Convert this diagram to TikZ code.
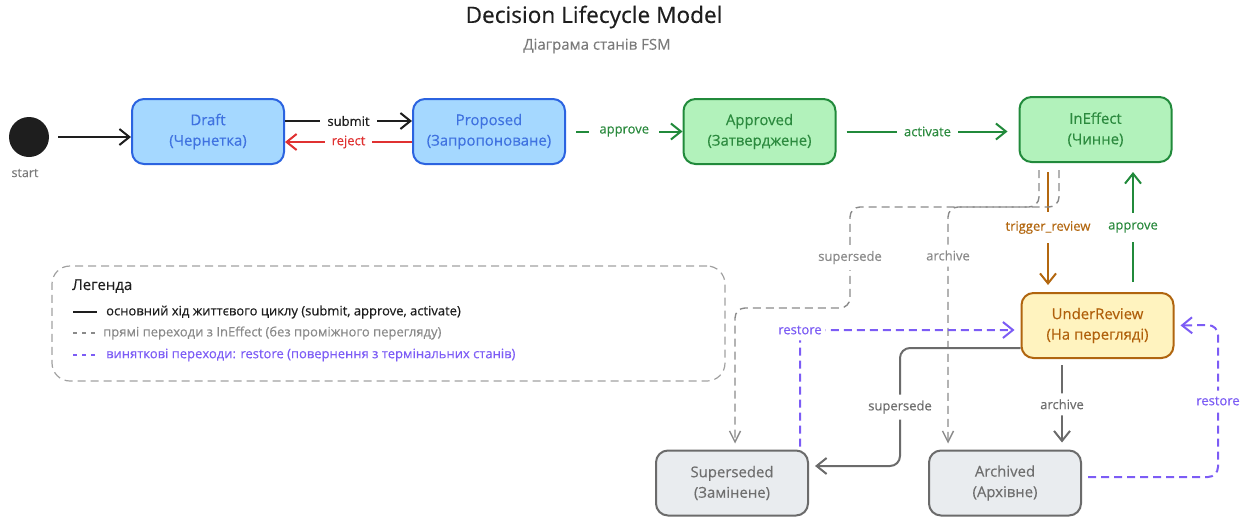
\documentclass[tikz,border=0pt]{standalone}
\usepackage{fontspec}
\setmainfont{Open Sans}[FakeBold=0.35]
\usetikzlibrary{arrows.meta,calc}

\definecolor{inkdark}{HTML}{1E1E1E}
\definecolor{subgray}{HTML}{7A7A7A}
\definecolor{bluefill}{HTML}{A5D8FF}
\definecolor{bluedraw}{HTML}{2B63E0}
\definecolor{bluetext}{HTML}{3F72E0}
\definecolor{greenfill}{HTML}{B2F2BB}
\definecolor{greendraw}{HTML}{218A3B}
\definecolor{greentext}{HTML}{2B8A3E}
\definecolor{yellowfill}{HTML}{FFF3BF}
\definecolor{yellowdraw}{HTML}{B0650F}
\definecolor{yellowtext}{HTML}{B0600B}
\definecolor{grayfill}{HTML}{E9ECEF}
\definecolor{graydraw}{HTML}{6B6B6B}
\definecolor{graytext}{HTML}{6E6E6E}
\definecolor{rejectred}{HTML}{E03131}
\definecolor{restorepurple}{HTML}{7C5CF5}
\definecolor{reviewbrown}{HTML}{B3670F}
\definecolor{ghostgray}{HTML}{8A8A8A}

\tikzset{
  state/.style={rounded corners=12pt, line width=2pt, minimum width=152pt,
    minimum height=65pt, align=center, inner sep=0pt,
    font=\fontsize{14.9}{20.5}\selectfont},
  bluestate/.style={state, draw=bluedraw, fill=bluefill, text=bluetext},
  greenstate/.style={state, draw=greendraw, fill=greenfill, text=greentext},
  yellowstate/.style={state, draw=yellowdraw, fill=yellowfill, text=yellowtext},
  graystate/.style={state, draw=graydraw, fill=grayfill, text=graytext},
  tip/.style={-{Straight Barb[length=10pt,width=16pt]}},
  thintip/.style={-{Straight Barb[length=11pt,width=11pt]}},
  lbl/.style={fill=white, inner xsep=7pt, inner ysep=6pt,
    font=\fontsize{13}{15}\selectfont},
  mainflow/.style={tip, line width=2pt, draw=inkdark},
  ghost/.style={thintip, line width=1.4pt, draw=ghostgray,
    dash pattern=on 8pt off 5pt, rounded corners=10pt},
  restoreflow/.style={tip, line width=2pt, draw=restorepurple,
    dash pattern=on 8pt off 5pt, rounded corners=10pt},
  solidgray/.style={tip, line width=2pt, draw=graydraw, rounded corners=10pt},
  legendtxt/.style={anchor=west, inner sep=0pt, font=\fontsize{13}{15}\selectfont},
}

\begin{document}
\begin{tikzpicture}[x=1pt,y=-1pt]
\useasboundingbox (0,0) rectangle (1249,517);

% heading
\node[font=\fontsize{22.6}{27}\selectfont, text=inkdark] (title) at (594,17) {Decision Lifecycle Model};
\node[font=\fontsize{15}{18}\selectfont, text=subgray] (subtitle) at (597,46) {Діаграма станів FSM};

% initial pseudo-state
\node[circle, fill=inkdark, minimum size=40pt, inner sep=0pt] (start) at (29,137) {};
\node[font=\fontsize{12.5}{14}\selectfont, text=subgray] (startlbl) at (25,173) {start};

% states
\node[bluestate] (draft) at (208,131.5) {Draft\\(Чернетка)};
\node[bluestate] (proposed) at (489,131.5) {Proposed\\(Запропоноване)};
\node[greenstate] (approved) at (759.5,131.5) {Approved\\(Затверджене)};
\node[greenstate] (ineffect) at (1095.5,129.5) {InEffect\\(Чинне)};
\node[yellowstate] (underreview) at (1097.5,325.5) {UnderReview\\(На перегляді)};
\node[graystate] (superseded) at (732,483) {Superseded\\(Замінене)};
\node[graystate] (archived) at (1005,483) {Archived\\(Архівне)};

% main lifecycle
\draw[mainflow, shorten <=9pt] (start) -- (start -| draft.west);
\draw[mainflow] ([yshift=10.5pt]draft.east) -- node[lbl, text=inkdark] {submit} ([yshift=10.5pt]proposed.west);
\draw[tip, line width=2pt, draw=rejectred] ([yshift=-10.5pt]proposed.west) -- node[lbl, text=rejectred] {reject} ([yshift=-10.5pt]draft.east);
\draw[tip, line width=2pt, draw=greendraw, shorten <=10pt] (proposed.east) -- node[lbl, text=greentext, inner xsep=10pt] {approve} (approved.west);
\draw[tip, line width=2pt, draw=greendraw, shorten <=10pt, shorten >=11pt] (approved.east) -- node[lbl, text=greentext] {activate} (approved.east -| ineffect.west);

% review loop
\draw[tip, line width=2pt, draw=reviewbrown, shorten <=9pt, shorten >=7pt] ([xshift=-47.5pt]ineffect.south) -- node[lbl, text=reviewbrown, inner ysep=9pt] {trigger\_review} ([xshift=-47.5pt]ineffect.south |- underreview.north);
\draw[tip, line width=2pt, draw=greendraw, shorten <=10pt, shorten >=9pt] ([xshift=35.5pt]underreview.north) -- node[lbl, text=greentext, inner ysep=9pt] {approve} ([xshift=35.5pt]underreview.north |- ineffect.south);

% direct transitions out of InEffect
\draw[ghost, shorten <=7pt, shorten >=6pt] ([xshift=-56.5pt]ineffect.south) |- (850,207) -- node[lbl, text=ghostgray] {supersede} (850,308) -| ([xshift=3pt]superseded.north);
\draw[ghost, shorten <=7pt, shorten >=6pt] ([xshift=-36.5pt]ineffect.south) |- (948,207) -- node[lbl, text=ghostgray, pos=0.2] {archive} ($(archived.north west)+(20,0)$);

% transitions out of review
\draw[solidgray, shorten >=6pt] ([yshift=-22.5pt]underreview.west) -- (900,348) -- node[lbl, text=graytext] {supersede} (900,466) -- ([yshift=17pt]superseded.east);
\draw[solidgray, shorten <=6pt, shorten >=7pt] ([xshift=-35.5pt]underreview.south) -- node[lbl, text=graytext] {archive} ([xshift=-35.5pt]underreview.south |- archived.north);

% restore transitions
\draw[restoreflow, shorten <=3pt, shorten >=6pt] ([xshift=68pt]superseded.north) -- (800,330) node[lbl, text=restorepurple, inner xsep=4pt] {restore} -- ([yshift=-4.5pt]underreview.west);
\draw[restoreflow, shorten <=6pt, shorten >=6pt] ([yshift=6pt]archived.east) -- (1218,477) -- node[lbl, text=restorepurple] {restore} (1218,325) -- (underreview.east);

% legend
\node[draw=ghostgray!80, line width=1.2pt, dash pattern=on 8pt off 5pt, rounded corners=18pt,
  minimum width=673pt, minimum height=115pt, inner sep=0pt] (legend) at (388.5,323.5) {};
\node[legendtxt, font=\fontsize{15}{17}\selectfont, text=inkdark] (legtitle) at (72,286) {Легенда};
\draw[line width=1.2pt, draw=inkdark] (73,312) -- (97,312);
\node[legendtxt, text=inkdark] (leg1) at (106,312) {основний хід життєвого циклу (submit, approve, activate)};
\draw[line width=1.2pt, draw=ghostgray, dash pattern=on 4pt off 5pt] (73,333) -- (97,333);
\node[legendtxt, text=ghostgray] (leg2) at (103,333) {прямі переходи з InEffect (без проміжного перегляду)};
\draw[line width=1.2pt, draw=restorepurple, dash pattern=on 4pt off 5pt] (73,355) -- (97,355);
\node[legendtxt, text=restorepurple] (leg3) at (106,355) {виняткові переходи: restore (повернення з термінальних станів)};
\end{tikzpicture}
\end{document}
